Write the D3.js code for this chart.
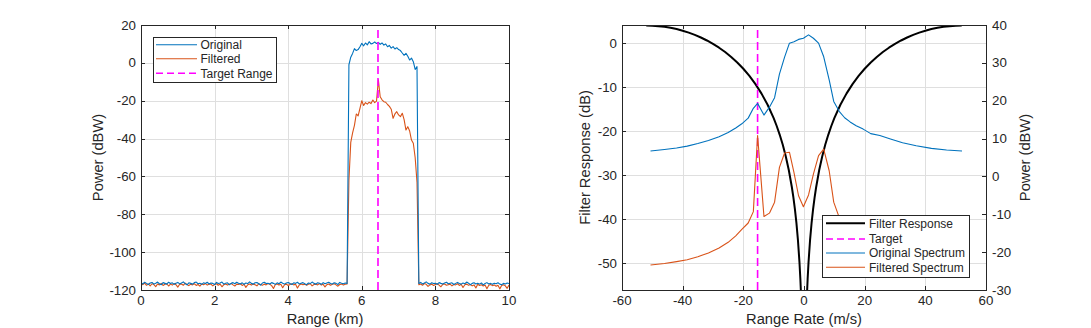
<!DOCTYPE html>
<html>
<head>
<meta charset="utf-8">
<script src="https://cdn.jsdelivr.net/npm/d3@7"></script>
<style>
  body { margin: 0; background: #fff; }
  svg text { font-family: "Liberation Sans", Arial, Helvetica, sans-serif; fill: #262626; }
</style>
</head>
<body>
<svg id="chart" width="1091" height="328"></svg>
<script>
// ---------- Range profile (left panel) ----------
const rangeStartKm = 0;
const rangeStepKm = 0.05;

const originalPower = [
  -116.2,-116.8,-115.9,-116.5,-117.1,-116.3,-116.0,-116.9,-116.4,-115.8,
  -116.7,-117.2,-116.1,-116.5,-116.9,-115.9,-116.6,-116.2,-117.0,-116.4,
  -116.0,-116.8,-116.3,-115.7,-116.6,-117.3,-116.2,-116.5,-116.9,-116.1,
  -115.8,-116.7,-116.4,-117.0,-116.2,-116.6,-115.9,-116.8,-116.3,-116.5,
  -117.1,-116.0,-116.6,-116.3,-115.8,-116.9,-116.4,-116.2,-117.2,-116.5,
  -116.1,-116.7,-115.9,-116.4,-116.8,-116.2,-117.0,-116.3,-116.6,-115.7,
  -116.5,-116.9,-116.2,-116.0,-116.7,-117.4,-116.3,-115.9,-116.6,-116.4,
  -116.8,-116.1,-116.5,-117.0,-116.2,-116.7,-115.8,-116.4,-116.9,-116.3,
  -116.0,-116.6,-117.1,-116.2,-116.5,-115.9,-116.8,-116.4,-116.1,-116.7,
  -117.2,-116.3,-116.6,-115.8,-116.5,-116.9,-116.2,-116.4,-117.0,-116.1,
  -116.7,-116.3,-115.9,-116.6,-116.8,-116.2,-116.5,-117.1,-116.0,-116.4,
  -116.7,-116.3,-116.6,
  -1, 3, 5, 7.5, 6.5, 7, 8.5, 10.3, 9, 10.5,
  9.5, 11.2, 10, 10.3, 11, 10.2, 10.8, 9.8, 10.5, 9.4,
  10, 8.5, 9.2, 7.8, 8.6, 7.3, 8, 7.0, 6.5, 5.2,
  4.0, 5.0, 3.5, 1.5, 2.5, 0.6, -3.5, -2.0,
  -116.6,-116.0,-116.8,-116.3,-115.7,-116.5,-116.9,-116.2,-116.6,-116.4,
  -117.0,-116.1,-116.5,-116.8,-116.3,-115.9,-116.7,-116.4,-116.2,-117.1,
  -116.5,-116.0,-116.6,-116.9,-116.3,-116.7,-115.8,-116.4,-117.2,-116.5,
  -116.2,-116.8,-116.4,-116.9,-116.3,-117.3,-116.6,-116.1,-116.8,-116.5,
  -117.0,-116.4,-116.7,-116.2,-116.9,-117.2,-116.5,-116.8,-116.3,-116.6
];

const filteredPower = [
  -116.6,-117.2,-116.4,-117.5,-116.9,-117.8,-116.7,-117.1,-118.2,-116.8,
  -117.3,-116.5,-117.6,-117.0,-116.7,-117.9,-116.9,-117.4,-116.6,-117.2,
  -118.5,-117.0,-116.8,-117.5,-116.4,-117.1,-117.7,-116.9,-117.3,-116.7,
  -117.6,-117.1,-118.0,-116.8,-117.2,-116.6,-117.4,-117.0,-116.9,-117.8,
  -117.1,-116.7,-117.5,-116.9,-118.3,-117.2,-116.8,-117.4,-117.0,-116.6,
  -117.3,-117.9,-116.9,-117.1,-116.7,-117.6,-117.0,-118.6,-117.2,-116.8,
  -117.4,-116.9,-117.2,-117.8,-116.7,-117.1,-117.5,-116.9,-117.3,-116.6,
  -117.0,-117.7,-119.2,-117.1,-116.8,-117.4,-117.0,-118.8,-117.2,-116.9,
  -117.6,-117.1,-116.7,-117.3,-117.0,-119.0,-117.4,-116.8,-117.2,-116.9,
  -117.5,-117.0,-116.7,-117.8,-117.1,-116.9,-117.3,-116.6,-117.4,-117.0,
  -118.4,-117.2,-116.8,-117.5,-117.0,-116.7,-117.3,-118.0,-117.1,-116.9,
  -117.4,-117.0,-116.8,
  -62, -42, -37, -33, -27, -28, -24, -20, -22.5, -21,
  -21.8, -20.8, -21.5, -19.6, -21, -20.2, -9, -17.9, -19.5, -20.5,
  -20.8, -22, -23, -24.5, -29.3, -27, -25.8, -27.5, -28.4, -26.6,
  -30, -35.5, -33.7, -36, -40.8, -42.5, -50, -63,
  -117.2,-116.8,-117.5,-116.6,-117.0,-118.1,-117.3,-116.9,-117.6,-117.1,
  -116.7,-117.4,-118.3,-117.0,-116.8,-117.5,-117.2,-116.9,-117.8,-117.1,
  -117.3,-116.7,-117.6,-117.0,-118.7,-117.2,-116.9,-117.5,-117.1,-117.8,
  -117.3,-118.9,-117.0,-117.6,-117.2,-117.9,-117.4,-119.3,-117.5,-117.1,
  -117.7,-117.3,-118.0,-117.5,-119.4,-117.6,-117.2,-117.8,-119.1,-117.4
];

const targetRangeKm = 6.44;
const rangeTicks = [0, 2, 4, 6, 8, 10];
const powerTicks = [-120, -100, -80, -60, -40, -20, 0, 20];

// ---------- Doppler spectrum (right panel) ----------
const spectrumRate = [
  -50.6, -46, -42, -38.5, -35, -31.5, -28, -25, -22.5, -20.5,
  -18.4, -16.7, -15.3, -13.2, -11.4, -9.7, -8.1, -6.4, -4.8, -3.3,
  -1.8, -0.2, 1.5, 3.1, 4.8, 6.5, 8.3, 9.8, 11.6, 13.4,
  15.2, 17.2, 19.5, 22, 25, 28.5, 32.5, 37, 42, 47, 52.1
];
const originalSpectrum = [
  6.7, 7.1, 7.5, 8.0, 8.7, 9.5, 10.5, 11.6, 12.8, 13.9,
  15.4, 18.0, 19.3, 16.2, 18.3, 20.8, 27.0, 31.5, 35.2, 35.6,
  36.2, 36.5, 37.4, 36.5, 35.2, 31.6, 25.5, 19.8, 17.2, 15.5,
  14.4, 13.4, 12.5, 11.3, 10.8, 9.9, 8.9, 8.1, 7.4, 7.0, 6.7
];
const filteredSpectrum = [
  -23.4, -23.0, -22.5, -22.0, -21.2, -20.2, -18.9, -17.4, -15.7, -14.0,
  -12.3, -9.3, 10.8, -10.6, -9.7, -6.8, 2.4, 6.2, 6.4, 1.0,
  -5.1, -8.0, -4.9, 0.6, 5.5, 7.2, 1.5, -6.8, -10.8, -12.8,
  -14.3, -15.6, -17.0, -18.3, -19.6, -20.7, -21.6, -22.4, -23.0, -23.3, -23.5
];

const filterRate = [
  -52, -50, -48, -46, -44, -42, -40, -38, -36, -34, -32, -30, -28, -26, -24, -22,
  -20, -18, -16, -14, -12, -10, -9, -8, -7, -6, -5, -4, -3.5, -3, -2.5, -2,
  -1.5, -1.2, -1, -0.8,
  0.8, 1, 1.2, 1.5,
  2, 2.5, 3, 3.5, 4, 5, 6, 7, 8, 9, 10, 12, 14, 16, 18, 20,
  22, 24, 26, 28, 30, 32, 34, 36, 38, 40, 42, 44, 46, 48, 50, 52
];
const filterResponse = [
  4.03, 4.00, 3.90, 3.74, 3.52, 3.23, 2.86, 2.43, 1.91, 1.32, 0.64, -0.13, -1.00, -1.99, -3.11, -4.36,
  -5.79, -7.42, -9.28, -11.44, -13.98, -17.03, -18.81, -20.81, -23.09, -25.73, -28.87, -32.73, -35.04, -37.70, -40.86, -44.73,
  -49.73, -53.60, -56.77, -60.64,
  -60.64, -56.77, -53.60, -49.73,
  -44.73, -40.86, -37.70, -35.04, -32.73, -28.87, -25.73, -23.09, -20.81, -18.81, -17.03, -13.98, -11.44, -9.28, -7.42, -5.79,
  -4.36, -3.11, -1.99, -1.00, -0.13, 0.64, 1.32, 1.91, 2.43, 2.86, 3.23, 3.52, 3.74, 3.90, 4.00, 4.03
];

const targetRate = -15.3;
const rateTicks = [-60, -40, -20, 0, 20, 40, 60];
const responseTicks = [-50, -40, -30, -20, -10, 0];
const spectrumPowerTicks = [-30, -20, -10, 0, 10, 20, 30, 40];

// ---------- Styles ----------
const C_BLUE = "#0072BD";
const C_ORANGE = "#D95319";
const C_MAGENTA = "#FF00FF";
const C_AXIS = "#262626";
const C_GRID = "#dfdfdf";
const TICK_LEN = 3.7;
const TICK_FONT = "13.3px";
const LABEL_FONT = "14.7px";
const LEGEND_FONT = "12px";

const svg = d3.select("#chart");

// Light grid lines behind the data.
function drawFrame(g, x, y, xTicks, yTicks) {
  const [x0, x1] = x.range();
  const [yb, yt] = y.range();

  const grid = g.append("g").attr("shape-rendering", "crispEdges");
  grid.selectAll(".vg").data(xTicks.filter(t => x(t) > x0 + 1 && x(t) < x1 - 1)).join("line")
    .attr("x1", d => Math.round(x(d)) + 0.5).attr("x2", d => Math.round(x(d)) + 0.5)
    .attr("y1", yt).attr("y2", yb).attr("stroke", C_GRID).attr("stroke-width", 1);
  grid.selectAll(".hg").data(yTicks.filter(t => y(t) > yt + 1 && y(t) < yb - 1)).join("line")
    .attr("y1", d => Math.round(y(d)) + 0.5).attr("y2", d => Math.round(y(d)) + 0.5)
    .attr("x1", x0).attr("x2", x1).attr("stroke", C_GRID).attr("stroke-width", 1);
}

// Box, inward ticks, tick labels and axis titles.
function drawAxes(g, x, y, xTicks, yTicks, opts) {
  const [x0, x1] = x.range();
  const [yb, yt] = y.range();
  const a = g.append("g").attr("shape-rendering", "crispEdges");

  a.append("rect").attr("x", x0 + 0.5).attr("y", yt + 0.5)
    .attr("width", x1 - x0).attr("height", yb - yt)
    .attr("fill", "none").attr("stroke", C_AXIS).attr("stroke-width", 1);

  xTicks.forEach(t => {
    const px = Math.round(x(t)) + 0.5;
    a.append("line").attr("x1", px).attr("x2", px).attr("y1", yb).attr("y2", yb - TICK_LEN).attr("stroke", C_AXIS);
    a.append("line").attr("x1", px).attr("x2", px).attr("y1", yt).attr("y2", yt + TICK_LEN).attr("stroke", C_AXIS);
    g.append("text").attr("x", x(t)).attr("y", yb + 15)
      .attr("text-anchor", "middle").style("font-size", TICK_FONT).text(t);
  });

  yTicks.forEach(t => {
    const py = Math.round(y(t)) + 0.5;
    a.append("line").attr("x1", x0).attr("x2", x0 + TICK_LEN).attr("y1", py).attr("y2", py).attr("stroke", C_AXIS);
    if (opts.mirrorY) {
      a.append("line").attr("x1", x1).attr("x2", x1 - TICK_LEN).attr("y1", py).attr("y2", py).attr("stroke", C_AXIS);
    }
    g.append("text").attr("x", x0 - 5).attr("y", y(t) + 4.5)
      .attr("text-anchor", "end").style("font-size", TICK_FONT).text(t);
  });

  g.append("text").attr("x", (x0 + x1) / 2).attr("y", yb + 34)
    .attr("text-anchor", "middle").style("font-size", LABEL_FONT).text(opts.xLabel);
  g.append("text").attr("transform", `translate(${opts.yLabelX},${(yt + yb) / 2}) rotate(-90)`)
    .attr("text-anchor", "middle").style("font-size", LABEL_FONT).text(opts.yLabel);
}

function drawLegend(g, x, y, w, h, rowYs, entries) {
  g.append("rect").attr("x", x + 0.5).attr("y", y + 0.5).attr("width", w).attr("height", h)
    .attr("fill", "#fff").attr("stroke", C_AXIS).attr("stroke-width", 1).attr("shape-rendering", "crispEdges");
  entries.forEach((e, i) => {
    const ry = rowYs[i];
    g.append("line").attr("x1", e.lx0).attr("x2", e.lx1).attr("y1", ry).attr("y2", ry)
      .attr("stroke", e.color).attr("stroke-width", e.width)
      .attr("stroke-dasharray", e.dash || null);
    g.append("text").attr("x", e.tx).attr("y", ry + 4.3)
      .style("font-size", LEGEND_FONT).text(e.label);
  });
}

// ================= Left panel =================
const gL = svg.append("g");
const xL = d3.scaleLinear().domain([0, 10]).range([141, 509]);
const yL = d3.scaleLinear().domain([-120, 20]).range([290, 25]);

drawFrame(gL, xL, yL, rangeTicks, powerTicks);

const defs = svg.append("defs");
defs.append("clipPath").attr("id", "clipL")
  .append("rect").attr("x", 141).attr("y", 25).attr("width", 368).attr("height", 265);

const rangeKm = originalPower.map((_, i) => rangeStartKm + i * rangeStepKm);
const lineL = d3.line().x((d, i) => xL(rangeKm[i])).y(d => yL(d));

const plotL = gL.append("g").attr("clip-path", "url(#clipL)");
plotL.append("path").datum(filteredPower).attr("d", lineL)
  .attr("fill", "none").attr("stroke", C_ORANGE).attr("stroke-width", 1.1).attr("stroke-linejoin", "round");
plotL.append("path").datum(originalPower).attr("d", lineL)
  .attr("fill", "none").attr("stroke", C_BLUE).attr("stroke-width", 1.1).attr("stroke-linejoin", "round");
plotL.append("line")
  .attr("x1", xL(targetRangeKm)).attr("x2", xL(targetRangeKm))
  .attr("y1", yL(-120)).attr("y2", yL(20))
  .attr("stroke", C_MAGENTA).attr("stroke-width", 1.6).attr("stroke-dasharray", "8,4");

drawAxes(gL, xL, yL, rangeTicks, powerTicks, {
  mirrorY: true, xLabel: "Range (km)", yLabel: "Power (dBW)", yLabelX: 103
});

drawLegend(gL, 153, 36.5, 123, 45.5, [44.7, 58.7, 73.3], [
  { label: "Original", color: C_BLUE, width: 1.1, lx0: 156, lx1: 197, tx: 200.5 },
  { label: "Filtered", color: C_ORANGE, width: 1.1, lx0: 156, lx1: 197, tx: 200.5 },
  { label: "Target Range", color: C_MAGENTA, width: 1.6, dash: "7,4", lx0: 156, lx1: 197, tx: 200.5 }
]);

// ================= Right panel =================
const gR = svg.append("g");
const xR = d3.scaleLinear().domain([-60, 60]).range([622, 986]);
const yRL = d3.scaleLinear().domain([-56.1, 4.16]).range([290, 25]);
const yRR = d3.scaleLinear().domain([-30, 40]).range([290, 25]);

drawFrame(gR, xR, yRL, rateTicks, responseTicks);

defs.append("clipPath").attr("id", "clipR")
  .append("rect").attr("x", 622).attr("y", 25).attr("width", 364).attr("height", 265);

const plotR = gR.append("g").attr("clip-path", "url(#clipR)");
const filterLine = d3.line().x((d, i) => xR(filterRate[i])).y(d => yRL(d));
plotR.append("path").datum(filterResponse).attr("d", filterLine)
  .attr("fill", "none").attr("stroke", "#000").attr("stroke-width", 2).attr("stroke-linejoin", "round");
plotR.append("line")
  .attr("x1", xR(targetRate)).attr("x2", xR(targetRate))
  .attr("y1", 290).attr("y2", 25)
  .attr("stroke", C_MAGENTA).attr("stroke-width", 1.6).attr("stroke-dasharray", "8,4");

const specLine = d3.line().x((d, i) => xR(spectrumRate[i])).y(d => yRR(d));
plotR.append("path").datum(originalSpectrum).attr("d", specLine)
  .attr("fill", "none").attr("stroke", C_BLUE).attr("stroke-width", 1.1).attr("stroke-linejoin", "round");
plotR.append("path").datum(filteredSpectrum).attr("d", specLine)
  .attr("fill", "none").attr("stroke", C_ORANGE).attr("stroke-width", 1.1).attr("stroke-linejoin", "round");

drawAxes(gR, xR, yRL, rateTicks, responseTicks, {
  mirrorY: false, xLabel: "Range Rate (m/s)", yLabel: "Filter Response (dB)", yLabelX: 590
});

// right-hand power axis
const ar = gR.append("g").attr("shape-rendering", "crispEdges");
spectrumPowerTicks.forEach(t => {
  const py = Math.round(yRR(t)) + 0.5;
  ar.append("line").attr("x1", 986).attr("x2", 986 - TICK_LEN).attr("y1", py).attr("y2", py).attr("stroke", C_AXIS);
  gR.append("text").attr("x", 992).attr("y", yRR(t) + 4.5)
    .attr("text-anchor", "start").style("font-size", TICK_FONT).text(t);
});
gR.append("text").attr("transform", `translate(1030,${(25 + 290) / 2}) rotate(-90)`)
  .attr("text-anchor", "middle").style("font-size", LABEL_FONT).text("Power (dBW)");

drawLegend(gR, 822, 215, 147, 61.5, [223.3, 239, 253, 267.3], [
  { label: "Filter Response", color: "#000", width: 2, lx0: 826, lx1: 865, tx: 869 },
  { label: "Target", color: C_MAGENTA, width: 1.6, dash: "7,4", lx0: 826, lx1: 865, tx: 869 },
  { label: "Original Spectrum", color: C_BLUE, width: 1.1, lx0: 826, lx1: 865, tx: 869 },
  { label: "Filtered Spectrum", color: C_ORANGE, width: 1.1, lx0: 826, lx1: 865, tx: 869 }
]);
</script>
</body>
</html>
